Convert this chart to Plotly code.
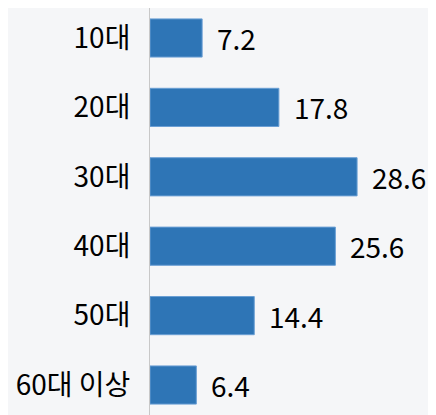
import plotly.graph_objects as go

categories = ["10대", "20대", "30대", "40대", "50대", "60대 이상"]
values = [7.2, 17.8, 28.6, 25.6, 14.4, 6.4]
value_labels = ["7.2", "17.8", "28.6", "25.6", "14.4", "6.4"]

FONT = "Noto Sans CJK KR"

fig = go.Figure()
fig.add_trace(go.Bar(
    x=values, y=categories, orientation="h",
    marker=dict(color="#2e75b6", line=dict(color="#6a9fd4", width=1)),
    width=0.55, hoverinfo="skip",
))

for c, v, t in zip(categories, values, value_labels):
    fig.add_annotation(x=v, y=c, text=t, showarrow=False, xanchor="left",
                       xshift=13, font=dict(family=FONT, size=28, color="#000"))

fig.update_layout(
    width=428, height=407,
    margin=dict(l=142, r=0, t=0, b=0),
    paper_bgcolor="#f5f6f8", plot_bgcolor="#f5f6f8",
    showlegend=False,
    xaxis=dict(range=[0, 39.5], showgrid=False, zeroline=False,
               showticklabels=False, showline=False, automargin=False),
    yaxis=dict(type="category", categoryorder="array", categoryarray=categories,
               range=[5.432, -0.432], showgrid=False, zeroline=False,
               showline=True, linecolor="#c8c8c8", linewidth=1,
               ticks="", ticklabelstandoff=13, automargin=False,
               tickfont=dict(family=FONT, size=28, color="#000")),
)

fig.write_html("out.html")
